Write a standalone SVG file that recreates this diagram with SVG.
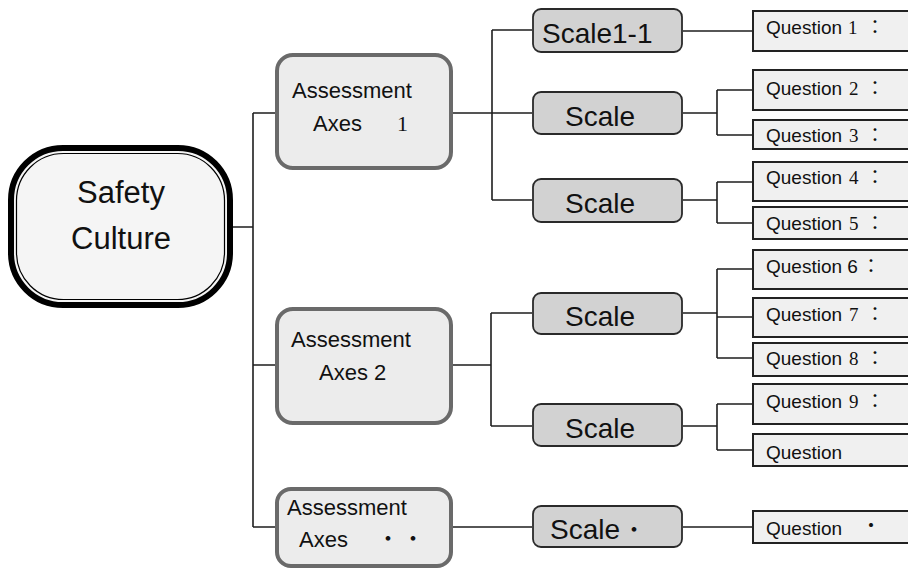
<svg xmlns="http://www.w3.org/2000/svg" width="908" height="569" viewBox="0 0 908 569">
<style>
  .conn { stroke: #1e1e1e; stroke-width: 1.6; fill: none; }
  .axes { fill: #ececec; stroke: #6a6a6a; stroke-width: 4; }
  .scale { fill: #d2d2d2; stroke: #2a2a2a; stroke-width: 1.8; }
  .q { fill: #f0f0f0; stroke: #222; stroke-width: 2; }
  .sans { font-family: "Liberation Sans", Arial, sans-serif; fill: #111; }
  .serif { font-family: "Liberation Serif", "Times New Roman", serif; fill: #111; }
  .cjk { font-family: "Noto Sans CJK JP", "Noto Sans CJK SC", sans-serif; fill: #111; }
  .at { font-size: 22px; }
  .st { font-size: 28px; }
  .qt { font-size: 19px; }
</style>
<rect width="908" height="569" fill="#ffffff"/>

<g id="connectors">
  <path class="conn" d="M233,227 H253 M253,113 V527 M253,113 H275 M253,365 H275 M253,527 H275"/>
  <path class="conn" d="M453,113 H492 M492,30 V200 M492,30 H532 M492,113 H532 M492,200 H532"/>
  <path class="conn" d="M453,365 H491 M491,313 V426 M491,313 H532 M491,426 H532"/>
  <path class="conn" d="M453,527 H532"/>
  <path class="conn" d="M683,31 H752"/>
  <path class="conn" d="M683,113 H717 M717,90 V135 M717,90 H752 M717,135 H752"/>
  <path class="conn" d="M683,200 H717 M717,182 V223 M717,182 H752 M717,223 H752"/>
  <path class="conn" d="M683,313 H717 M717,269 V358 M717,269 H752 M717,317 H752 M717,358 H752"/>
  <path class="conn" d="M683,426 H717 M717,404 V450 M717,404 H752 M717,450 H752"/>
  <path class="conn" d="M683,527 H752"/>
</g>

<g id="safety-culture">
  <rect x="11" y="148" width="219" height="157" rx="52" fill="#f5f5f5" stroke="#000" stroke-width="6"/>
  <rect x="16.5" y="153.5" width="208" height="146" rx="47" fill="none" stroke="#000" stroke-width="1.2"/>
  <text class="sans" x="121" y="203" font-size="31" text-anchor="middle">Safety</text>
  <text class="sans" x="121" y="249" font-size="31" text-anchor="middle">Culture</text>
</g>

<g id="axes-1">
  <rect class="axes" x="277" y="55" width="174" height="113" rx="16"/>
  <text class="sans at" x="292" y="98">Assessment</text>
  <text class="sans at" x="313" y="131">Axes</text>
  <text class="serif at" x="397" y="131">1</text>
</g>
<g id="axes-2">
  <rect class="axes" x="277" y="309" width="174" height="114" rx="16"/>
  <text class="sans at" x="291" y="347">Assessment</text>
  <text class="sans at" x="319" y="380">Axes 2</text>
</g>
<g id="axes-3">
  <rect class="axes" x="277" y="489" width="174" height="77" rx="14"/>
  <text class="sans at" x="287" y="515">Assessment</text>
  <text class="sans at" x="299" y="547">Axes</text>
  <text class="cjk at" x="388" y="546" text-anchor="middle">・</text>
  <text class="cjk at" x="413" y="546" text-anchor="middle">・</text>
</g>

<g id="scale-1-1">
  <rect class="scale" x="533" y="9" width="149" height="43" rx="8"/>
  <text class="sans st" x="542" y="43">Scale1-1</text>
</g>
<g id="scale-a1-2">
  <rect class="scale" x="533" y="92" width="149" height="42" rx="8"/>
  <text class="sans st" x="600" y="126" text-anchor="middle">Scale</text>
</g>
<g id="scale-a1-3">
  <rect class="scale" x="533" y="179" width="149" height="43" rx="8"/>
  <text class="sans st" x="600" y="213" text-anchor="middle">Scale</text>
</g>
<g id="scale-a2-1">
  <rect class="scale" x="533" y="293" width="149" height="41" rx="8"/>
  <text class="sans st" x="600" y="326" text-anchor="middle">Scale</text>
</g>
<g id="scale-a2-2">
  <rect class="scale" x="533" y="404" width="149" height="42" rx="8"/>
  <text class="sans st" x="600" y="438" text-anchor="middle">Scale</text>
</g>
<g id="scale-a3">
  <rect class="scale" x="533" y="506" width="149" height="41" rx="8"/>
  <text class="sans st" x="550" y="539">Scale</text>
  <text class="cjk" x="634" y="537" font-size="22" text-anchor="middle">・</text>
</g>

<g id="q1">
  <rect class="q" x="753" y="11" width="160" height="40"/>
  <text class="sans qt" x="766" y="34">Question</text>
  <text class="serif qt" x="848" y="34">1</text>
  <text class="cjk qt" x="875" y="34" text-anchor="middle">：</text>
</g>
<g id="q2">
  <rect class="q" x="753" y="70" width="160" height="40"/>
  <text class="sans qt" x="766" y="95">Question</text>
  <text class="serif qt" x="849" y="95">2</text>
  <text class="cjk qt" x="875" y="95" text-anchor="middle">：</text>
</g>
<g id="q3">
  <rect class="q" x="753" y="120" width="160" height="29"/>
  <text class="sans qt" x="766" y="142">Question</text>
  <text class="serif qt" x="849" y="142">3</text>
  <text class="cjk qt" x="875" y="142" text-anchor="middle">：</text>
</g>
<g id="q4">
  <rect class="q" x="753" y="162" width="160" height="39"/>
  <text class="sans qt" x="766" y="184">Question</text>
  <text class="serif qt" x="849" y="184">4</text>
  <text class="cjk qt" x="875" y="184" text-anchor="middle">：</text>
</g>
<g id="q5">
  <rect class="q" x="753" y="207" width="160" height="32"/>
  <text class="sans qt" x="766" y="230">Question</text>
  <text class="serif qt" x="849" y="230">5</text>
  <text class="cjk qt" x="875" y="230" text-anchor="middle">：</text>
</g>
<g id="q6">
  <rect class="q" x="753" y="250" width="160" height="39"/>
  <text class="sans qt" x="766" y="273">Question 6</text>
  <text class="cjk qt" x="871" y="273" text-anchor="middle">：</text>
</g>
<g id="q7">
  <rect class="q" x="753" y="298" width="160" height="39"/>
  <text class="sans qt" x="766" y="321">Question</text>
  <text class="serif qt" x="849" y="321">7</text>
  <text class="cjk qt" x="875" y="321" text-anchor="middle">：</text>
</g>
<g id="q8">
  <rect class="q" x="753" y="343" width="160" height="33"/>
  <text class="sans qt" x="766" y="365">Question</text>
  <text class="serif qt" x="849" y="365">8</text>
  <text class="cjk qt" x="875" y="365" text-anchor="middle">：</text>
</g>
<g id="q9">
  <rect class="q" x="753" y="384" width="160" height="40"/>
  <text class="sans qt" x="766" y="408">Question</text>
  <text class="serif qt" x="849" y="408">9</text>
  <text class="cjk qt" x="875" y="408" text-anchor="middle">：</text>
</g>
<g id="q10">
  <rect class="q" x="753" y="434" width="160" height="32"/>
  <text class="sans qt" x="766" y="459">Question</text>
</g>
<g id="q11">
  <rect class="q" x="753" y="511" width="160" height="32"/>
  <text class="sans qt" x="766" y="535">Question</text>
  <text class="cjk qt" x="871" y="533" text-anchor="middle">・</text>
</g>
</svg>
